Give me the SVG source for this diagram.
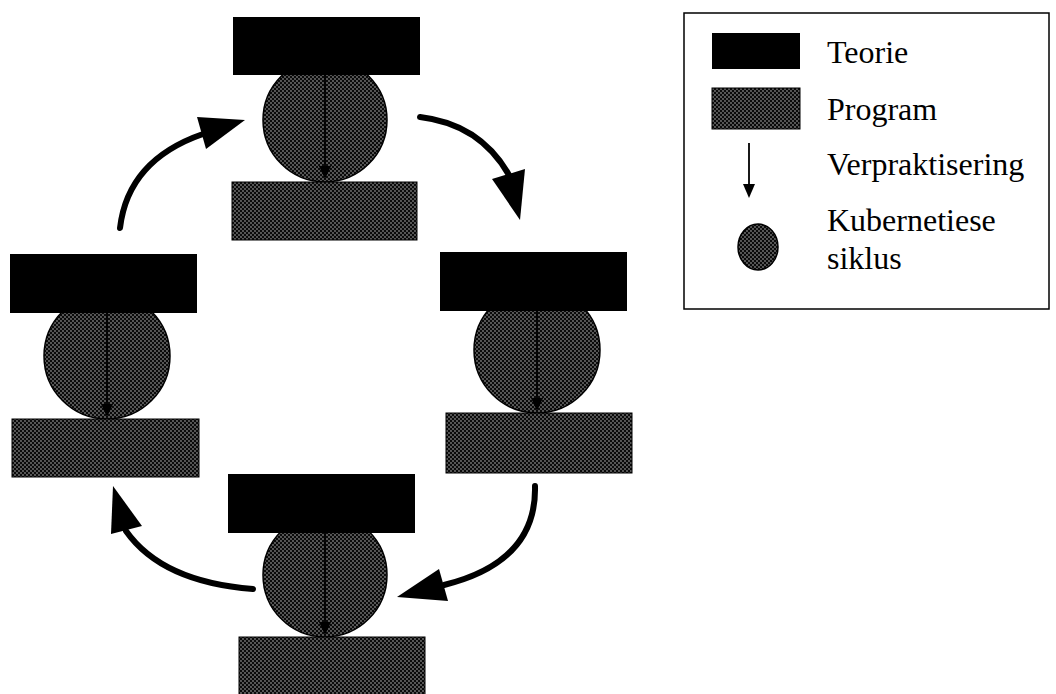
<svg xmlns="http://www.w3.org/2000/svg" width="1056" height="694" viewBox="0 0 1056 694">
  <defs>
    <!-- halftone dot screen used for programmes and cycles -->
    <pattern id="screen" width="4" height="4" patternUnits="userSpaceOnUse">
      <rect width="4" height="4" fill="#0a0a0a"/>
      <circle cx="1" cy="1" r="0.65" fill="#e0e0e0"/>
      <circle cx="3" cy="3" r="0.65" fill="#e0e0e0"/>
    </pattern>
  </defs>
  <style>
    .theory { fill: #000; }
    .program { fill: url(#screen); stroke: #000; stroke-width: 1; }
    .cycle { fill: url(#screen); stroke: #000; stroke-width: 1.5; }
    .impl { stroke: #000; stroke-width: 1.8; fill: none; }
    .impl-head { fill: #000; }
    .flow { stroke: #000; stroke-width: 6; fill: none; stroke-linecap: round; }
    .flow-head { fill: #000; }
    .label { font-family: "Liberation Serif", "Times New Roman", serif; font-size: 32px; fill: #000; }
  </style>

  <rect width="1056" height="694" fill="#fff"/>

  <!-- top unit -->
  <g id="unit-top">
    <circle class="cycle" cx="325" cy="120" r="62"/>
    <rect class="theory" x="233" y="17" width="187" height="58"/>
    <rect class="program" x="232" y="182" width="185" height="58"/>
    <line class="impl" x1="325" y1="75" x2="325" y2="168"/>
    <polygon class="impl-head" points="319,166 331,166 325,179"/>
  </g>

  <!-- left unit -->
  <g id="unit-left">
    <circle class="cycle" cx="107" cy="356" r="63"/>
    <rect class="theory" x="10" y="254" width="187" height="59"/>
    <rect class="program" x="12" y="419" width="187" height="58"/>
    <line class="impl" x1="107" y1="313" x2="107" y2="406"/>
    <polygon class="impl-head" points="101,404 113,404 107,417"/>
  </g>

  <!-- right unit -->
  <g id="unit-right">
    <circle class="cycle" cx="537" cy="350" r="63"/>
    <rect class="theory" x="440" y="252" width="187" height="59"/>
    <rect class="program" x="446" y="413" width="186" height="60"/>
    <line class="impl" x1="537" y1="311" x2="537" y2="400"/>
    <polygon class="impl-head" points="531,398 543,398 537,411"/>
  </g>

  <!-- bottom unit -->
  <g id="unit-bottom">
    <circle class="cycle" cx="325" cy="575" r="62"/>
    <rect class="theory" x="228" y="474" width="187" height="59"/>
    <rect class="program" x="239" y="637" width="186" height="60"/>
    <line class="impl" x1="325" y1="533" x2="325" y2="624"/>
    <polygon class="impl-head" points="319,622 331,622 325,635"/>
  </g>

  <!-- cycle connectors -->
  <g id="connectors">
    <path class="flow" d="M120,228 Q128,160 203,134"/>
    <polygon class="flow-head" points="245,120 197,117 206,149"/>

    <path class="flow" d="M420,117 Q480,124 509,175"/>
    <polygon class="flow-head" points="520,220 492,179 525,169"/>

    <path class="flow" d="M535,486 Q537,562 444,585"/>
    <polygon class="flow-head" points="397,597 439,569 448,601"/>

    <path class="flow" d="M253,589 Q162,582 126,531"/>
    <polygon class="flow-head" points="113,486 111,534 142,526"/>
  </g>

  <!-- legend -->
  <g id="legend">
    <rect x="684" y="13" width="365" height="296" fill="none" stroke="#000" stroke-width="1.5"/>
    <rect class="theory" x="712" y="33" width="88" height="36"/>
    <text class="label" x="827" y="63">Teorie</text>
    <rect class="program" x="712" y="88" width="88" height="41"/>
    <text class="label" x="827" y="120">Program</text>
    <line x1="749" y1="143" x2="749" y2="186" stroke="#000" stroke-width="1.8"/>
    <polygon points="743,184 755,184 749,198" fill="#000"/>
    <text class="label" x="827" y="175">Verpraktisering</text>
    <ellipse class="cycle" cx="758" cy="247" rx="20" ry="23"/>
    <text class="label" x="827" y="231">Kubernetiese</text>
    <text class="label" x="827" y="269">siklus</text>
  </g>
</svg>
